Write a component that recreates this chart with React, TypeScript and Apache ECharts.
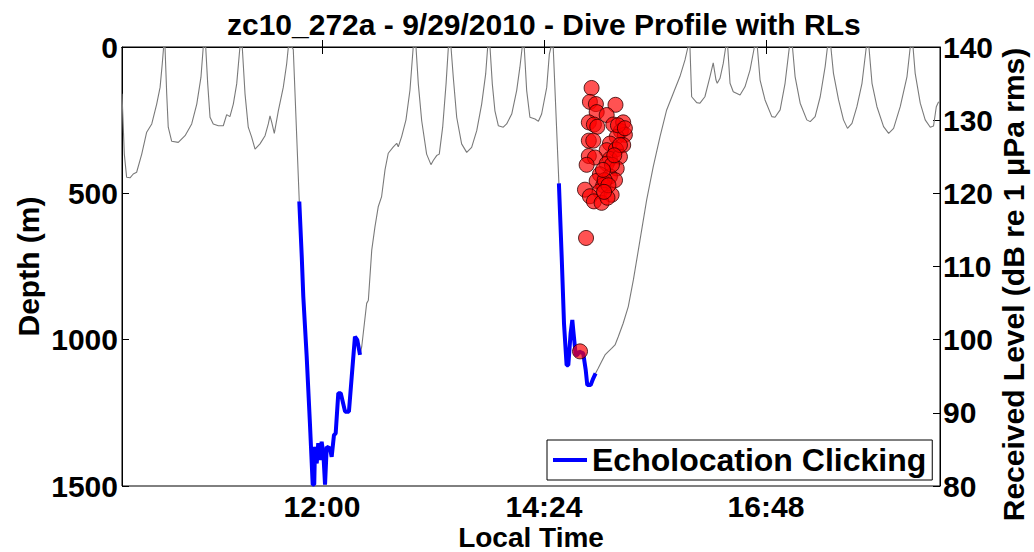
import React, { useEffect, useRef } from "react";
import * as echarts from "echarts";

// time in minutes after midnight (local), depth in metres
const preDive1: [number, number][] = [
  [590.3, 160], [591.8, 366], [593.3, 445], [595.5, 447], [597.6, 434], [599.8, 428], [603.1, 366],
  [606.3, 291], [609.6, 263], [612.8, 195], [615.0, 138], [616.4, 58], [617.3, 0], [618.2, 0],
  [619.3, 160], [620.3, 274], [622.5, 322], [626.8, 326], [631.2, 303], [635.5, 263], [638.8, 195],
  [641.5, 104], [643.0, 0], [644.6, 0], [645.9, 126], [647.4, 240], [649.5, 263], [652.8, 269],
  [656.0, 269], [658.2, 231], [660.3, 238], [662.5, 195], [664.7, 126], [666.8, 0], [668.3, 0],
  [670.1, 160], [672.2, 274], [674.4, 308], [676.6, 349], [679.8, 331], [683.1, 303], [685.2, 263],
  [686.3, 235], [687.4, 257], [689.1, 295], [691.7, 218], [694.9, 138], [697.1, 58], [698.2, 0],
  [700.4, 0], [701.4, 8],
];

const clicking1: [number, number][] = [
  [705.3, 528], [706.9, 716], [707.9, 853], [710.1, 1058], [712.2, 1286], [714.0, 1495], [715.0, 1495],
  [715.5, 1366], [716.6, 1423], [717.6, 1354], [718.7, 1411], [719.8, 1349], [720.9, 1388],
  [722.0, 1495], [723.1, 1366], [725.2, 1371], [726.3, 1400], [727.8, 1326], [728.9, 1320],
  [730.6, 1183], [732.2, 1183], [735.0, 1246], [737.5, 1246], [739.3, 1127], [741.4, 990],
  [742.9, 1001], [744.7, 1052],
];

const interDive: [number, number][] = [
  [745.8, 1024], [749.0, 876], [750.1, 865], [752.3, 694], [754.4, 614], [756.5, 546], [758.7, 511],
  [760.9, 420], [763.0, 363], [766.3, 341], [768.5, 329], [769.5, 341], [771.7, 306], [774.5, 249],
  [777.1, 147], [779.2, 0], [781.0, 0], [782.5, 126], [784.7, 252], [787.9, 366], [790.7, 402],
  [792.2, 388], [794.4, 371], [796.1, 366], [798.3, 274], [800.5, 126], [802.0, 0], [803.7, 0],
  [805.2, 104], [807.4, 240], [810.6, 331], [813.9, 360], [817.1, 343], [820.4, 286], [823.6, 195],
  [826.2, 92], [827.5, 0], [829.0, 0], [830.5, 126], [832.2, 218], [834.4, 269], [837.6, 274],
  [839.8, 263], [843.1, 229], [846.3, 149], [848.4, 69], [849.9, 0], [851.2, 0], [852.8, 149],
  [854.9, 240], [858.2, 246], [860.4, 254], [862.5, 229], [865.8, 138], [867.5, 24], [868.6, 0],
  [870.0, 0],
];

const clicking2: [number, number][] = [
  [873.7, 466], [875.5, 716], [877.0, 944], [878.7, 1087], [879.8, 1087], [881.3, 978], [882.4, 933],
  [883.0, 967], [884.6, 1052], [885.6, 1052], [886.9, 1041], [889.5, 1047], [891.1, 1104],
  [892.1, 1155], [894.3, 1155], [896.0, 1132], [897.5, 1115],
];

const postDive: [number, number][] = [
  [899.2, 1098], [901.4, 1075], [903.6, 1052], [905.7, 1041], [907.9, 1030], [910.1, 1018],
  [912.2, 990], [915.4, 944], [918.7, 887], [922.0, 796], [926.3, 660], [930.6, 523], [934.9, 409],
  [939.3, 306], [943.6, 215], [947.9, 158], [952.2, 101], [955.5, 44], [957.4, 0], [958.7, 0],
  [959.8, 170], [963.1, 190], [965.2, 192], [968.4, 170], [971.7, 101], [973.8, 54], [975.6, 113],
  [976.4, 124], [978.2, 107], [980.3, 56], [981.9, 0], [983.2, 0], [984.7, 124], [986.8, 153],
  [991.2, 164], [994.4, 136], [997.7, 78], [1000.5, 0], [1002.4, 0], [1004.2, 113], [1007.4, 181],
  [1011.8, 238], [1013.9, 240], [1017.2, 215], [1020.4, 124], [1023.2, 0], [1025.2, 0],
  [1026.9, 101], [1030.2, 192], [1034.5, 249], [1036.7, 255], [1039.9, 238], [1043.2, 170],
  [1046.4, 67], [1047.9, 0], [1050.1, 0], [1051.8, 90], [1055.1, 181], [1058.3, 249], [1060.9, 278],
  [1063.8, 261], [1067.0, 204], [1070.3, 124], [1073.1, 0], [1074.8, 0], [1076.8, 124],
  [1080.0, 204], [1084.3, 272], [1087.6, 295], [1090.8, 278], [1095.1, 204], [1099.5, 101],
  [1101.6, 0], [1103.4, 0], [1104.8, 90], [1108.1, 192], [1111.3, 249], [1114.6, 274],
  [1116.7, 270], [1118.5, 204], [1120.0, 187],
];

// received levels (time in minutes, dB re 1 µPa rms)
const rlTimes = [
  894.9, 893.8, 897.7, 910.4, 898.2, 904.7, 893.1, 896.4, 898.6, 909.0, 915.4, 913.9, 916.5, 911.2,
  893.1, 896.0, 906.8, 915.4, 904.7, 910.7, 893.1, 897.1, 906.8, 913.3, 891.7, 904.7, 911.2, 900.3,
  906.8, 898.2, 910.1, 902.5, 890.6, 900.3, 907.9, 893.8, 896.4, 901.4, 905.2, 891.3, 887.4,
  908.1, 903.4, 913.3, 912.0, 905.8, 902.3, 916.5, 909.6, 903.0,
];
const rlLevels = [
  134.4, 132.5, 132.2, 132.1, 131.1, 130.7, 129.7, 129.4, 129.1, 129.4, 129.7, 128.5, 128.0, 127.7,
  127.2, 127.2, 126.8, 126.6, 125.9, 126.0, 125.1, 124.9, 124.7, 125.0, 123.9, 124.05, 123.4, 122.6,
  122.3, 121.7, 121.8, 121.1, 120.5, 120.3, 119.8, 119.6, 118.9, 118.7, 119.4, 113.9, 98.4,
  123.9, 121.8, 126.6, 129.3, 121.1, 123.2, 128.9, 125.2, 120.2,
];

const timeTicks = [720, 864, 1008];
const depthTicks = [0, 500, 1000, 1500];
const rlTicks = [80, 90, 100, 110, 120, 130, 140];

const FONT = "'Liberation Sans', Arial, sans-serif";

function fmtTime(v: number): string {
  const h = Math.floor(v / 60);
  const m = Math.round(v - h * 60);
  return `${h}:${m < 10 ? "0" : ""}${m}`;
}

export default function App() {
  const ref = useRef<HTMLDivElement>(null);
  useEffect(() => {
    document.body.style.margin = "0";
    const chart = echarts.init(ref.current!, null, { renderer: "svg" });
    const fullProfile = [...preDive1, ...clicking1, ...interDive, ...clicking2, ...postDive];
    const labelStyle = { fontFamily: FONT, fontWeight: "bold" as const, fontSize: 30, color: "#000" };
    chart.setOption({
      animation: false,
      backgroundColor: "#fff",
      title: {
        text: "zc10_272a - 9/29/2010 - Dive Profile with RLs",
        left: 222,
        top: 4,
        textStyle: { fontFamily: FONT, fontWeight: "bold", fontSize: 30, color: "#000" },
      },
      grid: {
        left: 122, right: 94, top: 47, bottom: 66,
        containLabel: false, outerBoundsMode: "none",
        show: true, borderColor: "#000", borderWidth: 1, backgroundColor: "#fff",
      },
      legend: {
        data: [{ name: "Echolocation Clicking", icon: "rect" }],
        left: 547,
        top: 440,
        padding: [4, 6, 4, 6],
        borderColor: "#000",
        borderWidth: 1,
        backgroundColor: "#fff",
        itemWidth: 34,
        itemHeight: 4,
        itemGap: 6,
        textStyle: { fontFamily: FONT, fontWeight: "bold", fontSize: 32, color: "#000" },
      },
      xAxis: [
        {
          type: "value",
          min: 590.3,
          max: 1120.9,
          name: "Local Time",
          nameLocation: "middle",
          nameGap: 37,
          nameMoveOverlap: false,
          nameTextStyle: { ...labelStyle, fontSize: 28, lineHeight: 28 },
          axisLine: { show: true, lineStyle: { color: "#000" } },
          axisTick: { show: true, inside: true, length: 7, customValues: timeTicks, lineStyle: { color: "#000" } },
          axisLabel: { ...labelStyle, lineHeight: 26, margin: 7, customValues: timeTicks, formatter: (v: number) => fmtTime(v) },
          splitLine: { show: false },
        },
        {
          type: "value",
          position: "top",
          min: 590.3,
          max: 1120.9,
          axisLine: { show: true, lineStyle: { color: "#000" } },
          axisTick: { show: true, inside: true, length: 7, customValues: timeTicks, lineStyle: { color: "#000" } },
          axisLabel: { show: false },
          splitLine: { show: false },
        },
      ],
      yAxis: [
        {
          type: "value",
          inverse: true,
          min: 0,
          max: 1500,
          interval: 500,
          name: "Depth (m)",
          nameLocation: "middle",
          nameGap: 79,
          nameMoveOverlap: false,
          nameTextStyle: labelStyle,
          axisLine: { show: true, lineStyle: { color: "#000" } },
          axisTick: { show: true, inside: true, length: 7, lineStyle: { color: "#000" } },
          axisLabel: { ...labelStyle, margin: 4, customValues: depthTicks, formatter: (v: number) => String(v) },
          splitLine: { show: false },
        },
        {
          type: "value",
          min: 80,
          max: 140,
          interval: 10,
          position: "right",
          name: "Received Level (dB re 1 μPa rms)",
          nameLocation: "middle",
          nameGap: 58,
          nameMoveOverlap: false,
          nameTextStyle: { ...labelStyle, padding: [0, 36, 0, 0] },
          axisLine: { show: true, lineStyle: { color: "#000" } },
          axisTick: { show: true, inside: true, length: 7, lineStyle: { color: "#000" } },
          axisLabel: { ...labelStyle, margin: 3, customValues: rlTicks, formatter: (v: number) => String(v) },
          splitLine: { show: false },
        },
      ],
      series: [
        {
          name: "Depth",
          type: "line",
          data: fullProfile,
          symbol: "none",
          lineStyle: { color: "#7a7a7a", width: 1.1 },
          z: 2,
        },
        {
          name: "Echolocation Clicking",
          type: "line",
          data: clicking1,
          symbol: "none",
          color: "#0000ff",
          lineStyle: { color: "#0000ff", width: 4 },
          z: 3,
        },
        {
          name: "Echolocation Clicking",
          type: "line",
          data: clicking2,
          symbol: "none",
          color: "#0000ff",
          lineStyle: { color: "#0000ff", width: 4 },
          z: 3,
        },
        {
          name: "RL",
          type: "scatter",
          yAxisIndex: 1,
          data: rlTimes.map((t, i) => [t, rlLevels[i]]),
          symbol: "circle",
          symbolSize: 15,
          itemStyle: { color: "rgba(255,0,0,0.85)", borderColor: "#300000", borderWidth: 1 },
          z: 4,
        },
      ],
    });
    return () => chart.dispose();
  }, []);
  return <div ref={ref} style={{ width: 1034, height: 552 }} />;
}
